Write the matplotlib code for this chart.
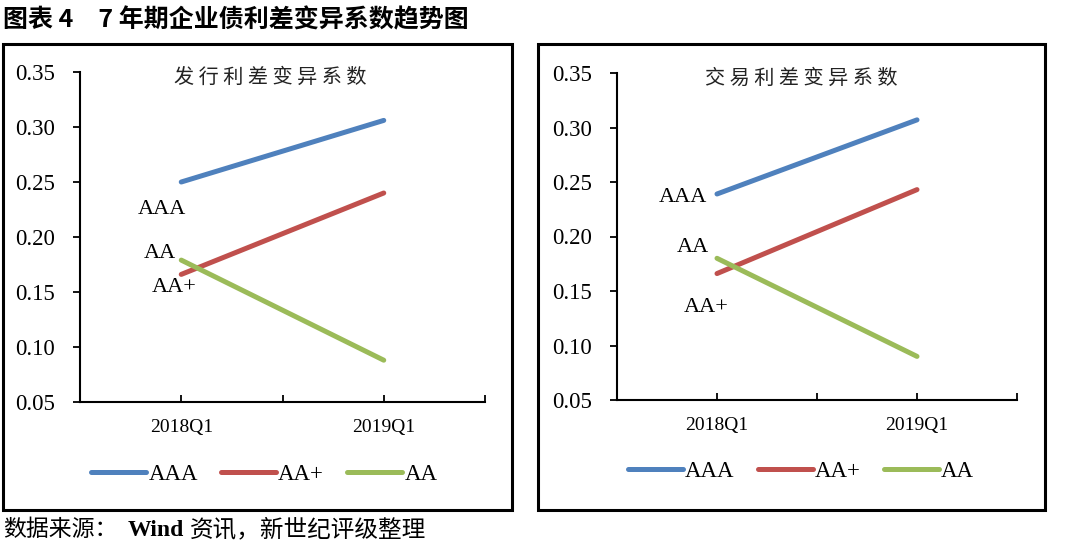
import matplotlib
matplotlib.use("Agg")
import matplotlib.pyplot as plt
from matplotlib.patches import Rectangle

# data
quarters = ["2018Q1", "2019Q1"]
issue_aaa = [0.250, 0.306]
issue_aap = [0.166, 0.240]
issue_aa = [0.179, 0.088]
trade_aaa = [0.239, 0.307]
trade_aap = [0.166, 0.243]
trade_aa = [0.180, 0.090]
series_names = ["AAA", "AA+", "AA"]
colors = ["#4F81BD", "#C0504D", "#9BBB59"]
yticks = [0.05, 0.10, 0.15, 0.20, 0.25, 0.30, 0.35]

serif = ["Liberation Serif", "Noto Sans CJK SC"]
cjk = ["Noto Sans CJK SC", "DejaVu Sans"]

fig = plt.figure(figsize=(10.8, 5.57), dpi=100)

# outer boxes round each panel
for x0, x1 in [(3, 512), (538, 1045)]:
    fig.add_artist(Rectangle((x0 / 1080, 1 - 510 / 557), (x1 - x0) / 1080, (510 - 44) / 557,
                             transform=fig.transFigure, fill=False, lw=2.2, ec="black"))

def panel(rect, vals, title, title_xy, labels_xy, leg_x):
    ax = fig.add_axes(rect)
    xpos = [1, 3]
    for v, c, n in zip(vals, colors, series_names):
        ax.plot(xpos, v, color=c, lw=3.6, solid_capstyle="round", label=n)
    ax.set_xlim(0, 4)
    ax.set_ylim(0.05, 0.35)
    ax.set_yticks(yticks)
    ax.set_yticklabels(["%.2f" % t for t in yticks], family=serif, fontsize=16.5)
    ax.set_xticks([1, 2, 3, 4])
    ax.set_xticklabels([quarters[0], "", quarters[1], ""], family=serif, fontsize=14)
    ax.tick_params(axis="y", direction="out", length=5, width=1.3, pad=13)
    ax.tick_params(axis="x", direction="in", length=5, width=1.3, pad=12)
    for s in ["top", "right"]:
        ax.spines[s].set_visible(False)
    for s in ["left", "bottom"]:
        ax.spines[s].set_linewidth(1.5)
    ax.text(title_xy[0], title_xy[1], title, transform=ax.transAxes, ha="center", va="center",
            family=cjk, fontsize=14.5, color="#222222")
    for (lx, ly), n in zip(labels_xy, series_names):
        ax.text(lx, ly, n, transform=ax.transAxes, ha="center", va="center", family=serif, fontsize=16)
    leg = ax.legend(loc="center", bbox_to_anchor=(leg_x, -0.22), ncol=3, frameon=False,
                    handlelength=2.4, handletextpad=0.1, columnspacing=1.0,
                    prop={"family": serif, "size": 16.5})
    for h in leg.get_lines():
        h.set_linewidth(3.6)
    return ax

panel([80 / 1080, 1 - 402 / 557, 405 / 1080, 330 / 557],
      [issue_aaa, issue_aap, issue_aa], "发 行 利 差 变 异 系 数", (0.47, 0.985),
      [((162 - 80) / 405, (402 - 210) / 330), ((174 - 80) / 405, (402 - 288) / 330),
       ((160 - 80) / 405, (402 - 253) / 330)], 0.455)

panel([617 / 1080, 1 - 400 / 557, 400 / 1080, 327 / 557],
      [trade_aaa, trade_aap, trade_aa], "交 易 利 差 变 异 系 数", (0.46, 0.985),
      [((683 - 617) / 400, (400 - 198) / 327), ((706 - 617) / 400, (400 - 308) / 327),
       ((693 - 617) / 400, (400 - 247) / 327)], 0.46)

fig.text(3 / 1080, 1 - 20 / 557, "图表 4　7 年期企业债利差变异系数趋势图", ha="left", va="center",
         family=cjk, fontsize=18, fontweight="bold")
fig.text(3 / 1080, 1 - 530 / 557, "数据来源：", ha="left", va="center", family=cjk, fontsize=16.5)
fig.text(128 / 1080, 1 - 530 / 557, "Wind", ha="left", va="center", family=serif, fontsize=17,
         fontweight="bold")
fig.text(190 / 1080, 1 - 530 / 557, "资讯，新世纪评级整理", ha="left", va="center", family=cjk, fontsize=17)

fig.savefig("out.png", dpi=100)
